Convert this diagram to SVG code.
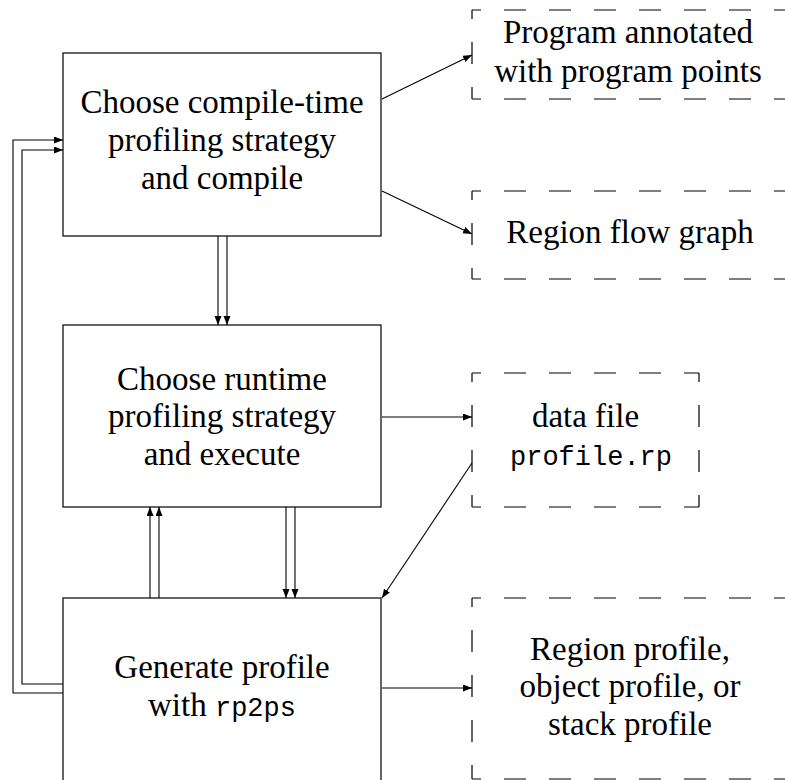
<svg xmlns="http://www.w3.org/2000/svg" width="785" height="780" viewBox="0 0 785 780">
<style>
.box{fill:none;stroke:#000;stroke-width:1.2}
.dash{fill:none;stroke:#000;stroke-width:1.2;stroke-dasharray:22 23;stroke-dashoffset:13}
text{font-family:'Liberation Serif','DejaVu Serif','Noto Serif',serif;font-size:33px;fill:#000;text-anchor:middle}
.m{font-family:'Liberation Mono','DejaVu Sans Mono',monospace;font-size:27px}
.c{fill:none;stroke:#000;stroke-width:1.1;marker-end:url(#ah)}
</style>
<defs>
<marker id="ah" markerUnits="userSpaceOnUse" markerWidth="10" markerHeight="8" refX="9" refY="3.5" orient="auto">
<path d="M0,0 L9,3.5 L0,7 z" fill="#000"/>
</marker>
</defs>
<g id="compile">
<rect class="box" x="63" y="53" width="318" height="183"/>
<text x="222" y="113">Choose compile-time</text>
<text x="222" y="151">profiling strategy</text>
<text x="222" y="189">and compile</text>
</g>
<g id="execute">
<rect class="box" x="63" y="325" width="318" height="182"/>
<text x="222" y="390">Choose runtime</text>
<text x="222" y="427">profiling strategy</text>
<text x="222" y="465">and execute</text>
</g>
<g id="generate">
<rect class="box" x="63" y="598" width="318" height="183"/>
<text x="222" y="678">Generate profile</text>
<text x="222" y="716">with <tspan class="m">rp2ps</tspan></text>
</g>
<g id="annotated">
<path class="dash" d="M472,10 H800"/>
<path class="dash" d="M472,10 V99"/>
<path class="dash" d="M472,99 H800"/>
<text x="628" y="43">Program annotated</text>
<text x="628" y="82">with program points</text>
</g>
<g id="flowgraph">
<path class="dash" d="M472,191 H800"/>
<path class="dash" d="M472,191 V279"/>
<path class="dash" d="M472,279 H800"/>
<text x="630" y="243">Region flow graph</text>
</g>
<g id="datafile">
<path class="dash" d="M472,373 H699"/>
<path class="dash" d="M472,373 V507"/>
<path class="dash" d="M472,507 H699"/>
<path class="dash" d="M699,373 V507"/>
<text x="585.5" y="427">data file</text>
<text class="m" x="591" y="465">profile.rp</text>
</g>
<g id="profiles">
<path class="dash" d="M472,598 H800"/>
<path class="dash" d="M472,598 V779"/>
<path class="dash" d="M472,779 H800"/>
<text x="630" y="660">Region profile,</text>
<text x="630" y="697">object profile, or</text>
<text x="630" y="735">stack profile</text>
</g>
<g id="connectors">
<path class="c" d="M382,99 L472,55"/>
<path class="c" d="M382,191 L472,234"/>
<path class="c" d="M218,236 V325"/>
<path class="c" d="M227,236 V325"/>
<path class="c" d="M382,417 H472"/>
<path class="c" d="M472,463 L382,598"/>
<path class="c" d="M286,507 V598"/>
<path class="c" d="M295,507 V598"/>
<path class="c" d="M150,598 V507"/>
<path class="c" d="M159,598 V507"/>
<path class="c" d="M382,688 H472"/>
<path class="c" d="M63,693 H13 V140 H63"/>
<path class="c" d="M63,684 H22 V150 H63"/>
</g>
</svg>
